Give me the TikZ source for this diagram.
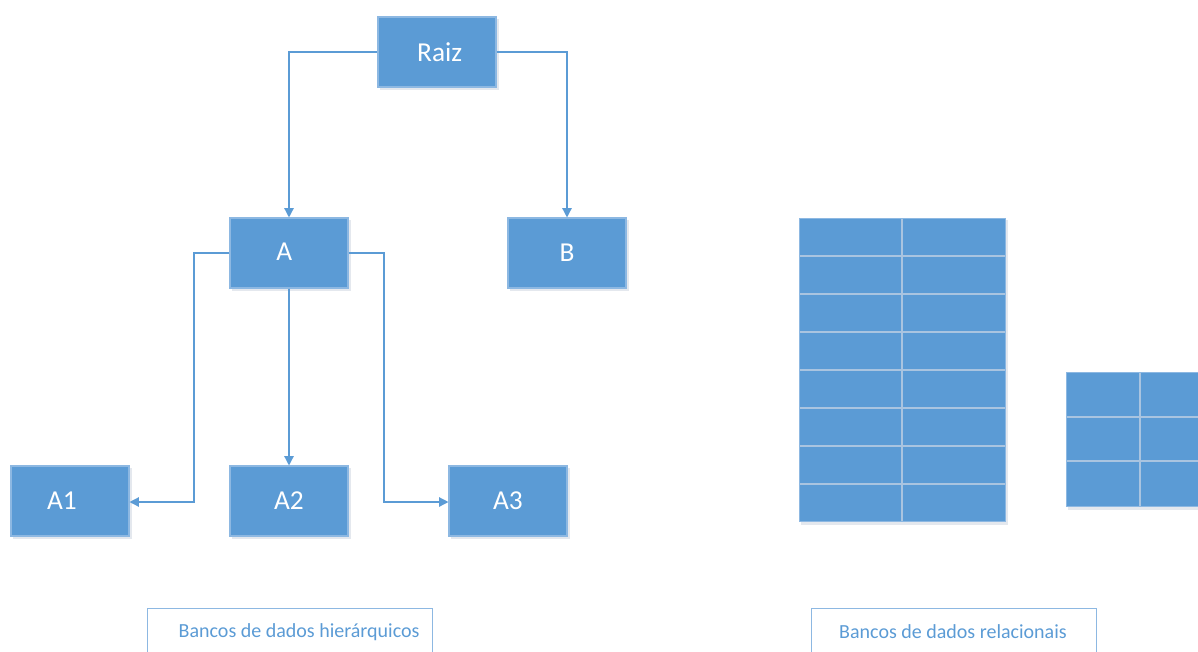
\documentclass[tikz,border=0pt]{standalone}
\usepackage{fontspec}
\setmainfont{Carlito}
\usetikzlibrary{arrows.meta}
\definecolor{boxblue}{HTML}{5B9BD5}
\definecolor{boxedge}{HTML}{8DB8E2}
\definecolor{gridline}{HTML}{A9C4E0}
\definecolor{shadowc}{HTML}{E4E8EE}
\begin{document}
\begin{tikzpicture}[x=0.75pt,y=-0.75pt,
  treebox/.style={draw=boxedge,line width=0.8pt,fill=boxblue,minimum width=88.5pt,minimum height=52.5pt,
    inner sep=0pt,text=white,font=\fontsize{20.5}{24}\selectfont},
  link/.style={draw=boxblue,line width=1pt,-{Triangle[length=7pt,width=7pt]}},
  captext/.style={text=boxblue,font=\fontsize{15}{18}\selectfont}]
\useasboundingbox (0,0) rectangle (1198,651);
% soft shadows under the tree boxes
\foreach \cx/\cy in {437/52,289/253,567/253,70/501,289/501,508/501}
  \fill[shadowc] (\cx-57,\cy-33) rectangle (\cx+62,\cy+38);
% tree
\node[treebox] (raiz) at (437,52) {\kern4pt Raiz};
\node[treebox] (a) at (289,253) {\raisebox{2pt}{A}\kern7pt};
\node[treebox] (b) at (567,253) {B};
\node[treebox] (a1) at (70,501) {A1\kern12pt};
\node[treebox] (a2) at (289,501) {A2\kern0pt};
\node[treebox] (a3) at (508,501) {A3\kern0pt};
\coordinate (rl) at (289,52);
\coordinate (rr) at (567,52);
\coordinate (al) at (194,253);
\coordinate (ald) at (194,502);
\coordinate (ar) at (384,253);
\coordinate (ard) at (384,502);
\draw[link] (raiz.west) -- (rl) -- (a.north);
\draw[link] (raiz.east) -- (rr) -- (b.north);
\draw[link] (a.west) -- (al) -- (ald) -- (a1.east|-ald);
\draw[link] (a.south) -- (a2.north);
\draw[link] (a.east) -- (ar) -- (ard) -- (a3.west|-ard);
% relational tables
\fill[shadowc] (801,220) rectangle (1008,525);
\fill[boxblue] (799,218) rectangle (1005,521);
\foreach \yy in {256,294,332,370,408,446,484}
  \draw[gridline,line width=0.8pt] (799,\yy) -- (1005,\yy);
\draw[gridline,line width=0.8pt] (902,218) -- (902,521);
\draw[boxedge,line width=0.6pt] (799,218) rectangle (1005,521);
\fill[shadowc] (1068,374) rectangle (1198,510);
\fill[boxblue] (1066,372) rectangle (1199,506);
\foreach \yy in {417,461}
  \draw[gridline,line width=0.8pt] (1066,\yy) -- (1199,\yy);
\draw[gridline,line width=0.8pt] (1140,372) -- (1140,506);
\draw[boxedge,line width=0.6pt] (1199,372) -- (1066,372) -- (1066,506) -- (1199,506);
% captions
\draw[boxedge,line width=0.6pt] (147,652) -- (147,608) -- (432,608) -- (432,652);
\node[captext,anchor=west] (hcap) at (174,632) {Bancos de dados hierárquicos};
\draw[boxedge,line width=0.6pt] (811,652) -- (811,608) -- (1096,608) -- (1096,652);
\node[captext] (rcap) at (953,632) {Bancos de dados relacionais};
\end{tikzpicture}
\end{document}
